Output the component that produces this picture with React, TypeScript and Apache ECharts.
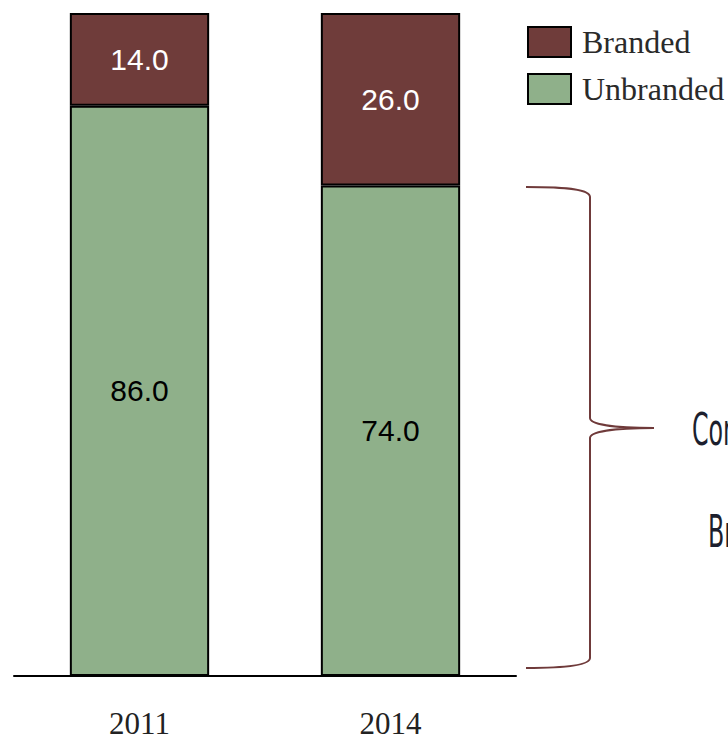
import React, { useEffect, useRef } from "react";
import * as echarts from "echarts";

const categories = ["2011", "2014"];
const brandedValues = [14.0, 26.0];
const unbrandedValues = [86.0, 74.0];
const seriesNames = ["Branded", "Unbranded"];
const annotationLines = ["Consumers shifting to", "Branded products"];

const BRACE_D =
  "M526,187 C572,187 590,190 590,197 L590,418 C590,424 612,428 654,428 C612,428 590,432 590,438 L590,658 C590,664 572,668 526,668";

let registered = false;

export default function App() {
  const ref = useRef<HTMLDivElement>(null);
  useEffect(() => {
    if (!ref.current) return;
    if (!registered) {
      echarts.graphic.registerShape("logo", echarts.graphic.extendPath(BRACE_D, {}));
      registered = true;
    }
    const chart = echarts.init(ref.current, null, { renderer: "svg" });
    const serif = "'Liberation Serif', 'DejaVu Serif', serif";
    const sans = "'Liberation Sans', Arial, sans-serif";
    const condensed = "'DejaVu Sans Condensed', 'DejaVu Sans', sans-serif";
    chart.setOption({
      animation: false,
      grid: { left: 14, right: 212, top: 13, bottom: 65, containLabel: false },
      legend: {
        data: seriesNames,
        orient: "vertical",
        left: 527,
        top: 26,
        padding: 0,
        itemWidth: 43,
        itemHeight: 30,
        itemGap: 15,
        icon: "rect",
        textStyle: { fontFamily: serif, fontSize: 32, color: "#2a2a2a", padding: [0, 0, 0, 6] },
        selectedMode: false,
      },
      xAxis: {
        type: "category",
        data: categories,
        axisLine: { lineStyle: { color: "#000", width: 2 } },
        axisTick: { show: false },
        axisLabel: { fontFamily: serif, fontSize: 31, color: "#222", margin: 32 },
      },
      yAxis: {
        type: "value",
        min: 0,
        max: 100,
        show: false,
        splitLine: { show: false },
      },
      series: [
        {
          name: seriesNames[1],
          type: "bar",
          stack: "total",
          barWidth: "55.5%",
          data: unbrandedValues,
          itemStyle: { color: "#8fb08a", borderColor: "#000", borderWidth: 2 },
          label: {
            show: true,
            position: "inside",
            formatter: (p: any) => Number(p.value).toFixed(1),
            color: "#000",
            fontFamily: sans,
            fontSize: 30,
          },
        },
        {
          name: seriesNames[0],
          type: "bar",
          stack: "total",
          data: brandedValues,
          itemStyle: { color: "#6f3c3a", borderColor: "#000", borderWidth: 2 },
          label: {
            show: true,
            position: "inside",
            formatter: (p: any) => Number(p.value).toFixed(1),
            color: "#fff",
            fontFamily: sans,
            fontSize: 30,
          },
        },
      ],
      graphic: [
        {
          type: "logo",
          x: 0,
          y: 0,
          style: { fill: null, stroke: "#6f3a3a", lineWidth: 2 },
        },
        {
          type: "text",
          x: 692,
          y: 430,
          scaleX: 0.6,
          style: {
            text: annotationLines[0],
            fontFamily: condensed,
            fontSize: 44,
            fill: "#1c1f2e",
            verticalAlign: "middle",
            align: "left",
          },
        },
        {
          type: "text",
          x: 708,
          y: 532,
          scaleX: 0.6,
          style: {
            text: annotationLines[1],
            fontFamily: condensed,
            fontSize: 44,
            fill: "#1c1f2e",
            verticalAlign: "middle",
            align: "left",
          },
        },
      ],
    });
    return () => chart.dispose();
  }, []);
  return (
    <div
      ref={ref}
      style={{ position: "fixed", left: 0, top: 0, width: 728, height: 741, overflow: "hidden", background: "#fff" }}
    />
  );
}
